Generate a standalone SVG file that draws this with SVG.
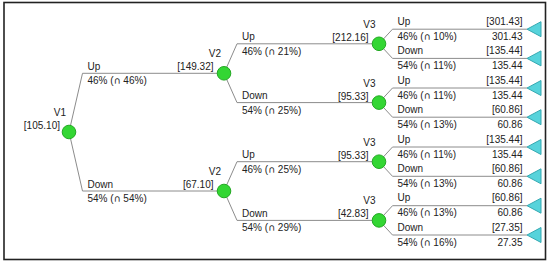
<svg xmlns="http://www.w3.org/2000/svg" width="550" height="264" viewBox="0 0 550 264">
<defs>
<style>
text{font-family:"Liberation Sans",Arial,"DejaVu Sans",sans-serif;font-size:10px;fill:#222}
.e{text-anchor:end}
.i{font-family:"DejaVu Sans",sans-serif;font-size:9.5px}
.c{fill:none;stroke:#8c8c8c;stroke-width:1}
.ch{fill:#33d633;stroke:#23a823;stroke-width:1}
.t{fill:#57d3db;stroke:#35a9b2;stroke-width:1}
</style>
</defs>
<rect x="4" y="2.5" width="541.5" height="257" fill="#fff" stroke="#222" stroke-width="1.6"/>
<g id="connectors">
<path class="c" d="M69,132 L82.5,73.3 L224,73.3"/>
<path class="c" d="M69,132 L82.5,191 L224,191"/>
<path class="c" d="M224,73.3 L237,43.8 L379,43.8"/>
<path class="c" d="M224,73.3 L237,102.6 L379,102.6"/>
<path class="c" d="M224,191 L237,161.7 L379,161.7"/>
<path class="c" d="M224,191 L237,220.4 L379,220.4"/>
<path class="c" d="M379,43.8 L392.5,29.2 L527,29.2"/>
<path class="c" d="M379,43.8 L392.5,58.4 L527,58.4"/>
<path class="c" d="M379,102.6 L392.5,88 L527,88"/>
<path class="c" d="M379,102.6 L392.5,117.2 L527,117.2"/>
<path class="c" d="M379,161.7 L392.5,147 L527,147"/>
<path class="c" d="M379,161.7 L392.5,176.3 L527,176.3"/>
<path class="c" d="M379,220.4 L392.5,205.7 L527,205.7"/>
<path class="c" d="M379,220.4 L392.5,235 L527,235"/>
<text x="87.5" y="69.8">Up</text><text x="87.5" y="84.3">46% (<tspan class="i">∩</tspan> 46%)</text>
<text x="87.5" y="187.5">Down</text><text x="87.5" y="202">54% (<tspan class="i">∩</tspan> 54%)</text>
<text x="242" y="40.3">Up</text><text x="242" y="54.8">46% (<tspan class="i">∩</tspan> 21%)</text>
<text x="242" y="99.1">Down</text><text x="242" y="113.6">54% (<tspan class="i">∩</tspan> 25%)</text>
<text x="242" y="158.2">Up</text><text x="242" y="172.7">46% (<tspan class="i">∩</tspan> 25%)</text>
<text x="242" y="216.9">Down</text><text x="242" y="231.4">54% (<tspan class="i">∩</tspan> 29%)</text>
<text x="397.5" y="24.9">Up</text><text x="397.5" y="39.7">46% (<tspan class="i">∩</tspan> 10%)</text>
<text x="397.5" y="54.1">Down</text><text x="397.5" y="68.9">54% (<tspan class="i">∩</tspan> 11%)</text>
<text x="397.5" y="83.7">Up</text><text x="397.5" y="98.5">46% (<tspan class="i">∩</tspan> 11%)</text>
<text x="397.5" y="112.9">Down</text><text x="397.5" y="127.7">54% (<tspan class="i">∩</tspan> 13%)</text>
<text x="397.5" y="142.7">Up</text><text x="397.5" y="157.5">46% (<tspan class="i">∩</tspan> 11%)</text>
<text x="397.5" y="172">Down</text><text x="397.5" y="186.8">54% (<tspan class="i">∩</tspan> 13%)</text>
<text x="397.5" y="201.4">Up</text><text x="397.5" y="216.2">46% (<tspan class="i">∩</tspan> 13%)</text>
<text x="397.5" y="230.7">Down</text><text x="397.5" y="245.5">54% (<tspan class="i">∩</tspan> 16%)</text>
</g>
<g id="v1"><circle class="ch" cx="69" cy="132" r="6.8"/><text class="e" x="66" y="116">V1</text><text class="e" x="60" y="129">[105.10]</text></g>
<g id="v2a"><circle class="ch" cx="224" cy="73.3" r="6.8"/><text class="e" x="221" y="57.3">V2</text><text class="e" x="213.5" y="70.3">[149.32]</text></g>
<g id="v2b"><circle class="ch" cx="224" cy="191" r="6.8"/><text class="e" x="221" y="175">V2</text><text class="e" x="213.5" y="188">[67.10]</text></g>
<g id="v3a"><circle class="ch" cx="379" cy="43.8" r="6.8"/><text class="e" x="375.5" y="27.8">V3</text><text class="e" x="368.5" y="40.8">[212.16]</text></g>
<g id="v3b"><circle class="ch" cx="379" cy="102.6" r="6.8"/><text class="e" x="375.5" y="86.6">V3</text><text class="e" x="368.5" y="99.6">[95.33]</text></g>
<g id="v3c"><circle class="ch" cx="379" cy="161.7" r="6.8"/><text class="e" x="375.5" y="145.7">V3</text><text class="e" x="368.5" y="158.7">[95.33]</text></g>
<g id="v3d"><circle class="ch" cx="379" cy="220.4" r="6.8"/><text class="e" x="375.5" y="204.4">V3</text><text class="e" x="368.5" y="217.4">[42.83]</text></g>
<g id="t1"><polygon class="t" points="527,29.2 541,21.7 541,36.7"/><text class="e" x="522.5" y="24.9">[301.43]</text><text class="e" x="522.5" y="39.7">301.43</text></g>
<g id="t2"><polygon class="t" points="527,58.4 541,50.9 541,65.9"/><text class="e" x="522.5" y="54.1">[135.44]</text><text class="e" x="522.5" y="68.9">135.44</text></g>
<g id="t3"><polygon class="t" points="527,88 541,80.5 541,95.5"/><text class="e" x="522.5" y="83.7">[135.44]</text><text class="e" x="522.5" y="98.5">135.44</text></g>
<g id="t4"><polygon class="t" points="527,117.2 541,109.7 541,124.7"/><text class="e" x="522.5" y="112.9">[60.86]</text><text class="e" x="522.5" y="127.7">60.86</text></g>
<g id="t5"><polygon class="t" points="527,147 541,139.5 541,154.5"/><text class="e" x="522.5" y="142.7">[135.44]</text><text class="e" x="522.5" y="157.5">135.44</text></g>
<g id="t6"><polygon class="t" points="527,176.3 541,168.8 541,183.8"/><text class="e" x="522.5" y="172">[60.86]</text><text class="e" x="522.5" y="186.8">60.86</text></g>
<g id="t7"><polygon class="t" points="527,205.7 541,198.2 541,213.2"/><text class="e" x="522.5" y="201.4">[60.86]</text><text class="e" x="522.5" y="216.2">60.86</text></g>
<g id="t8"><polygon class="t" points="527,235 541,227.5 541,242.5"/><text class="e" x="522.5" y="230.7">[27.35]</text><text class="e" x="522.5" y="245.5">27.35</text></g>
</svg>
